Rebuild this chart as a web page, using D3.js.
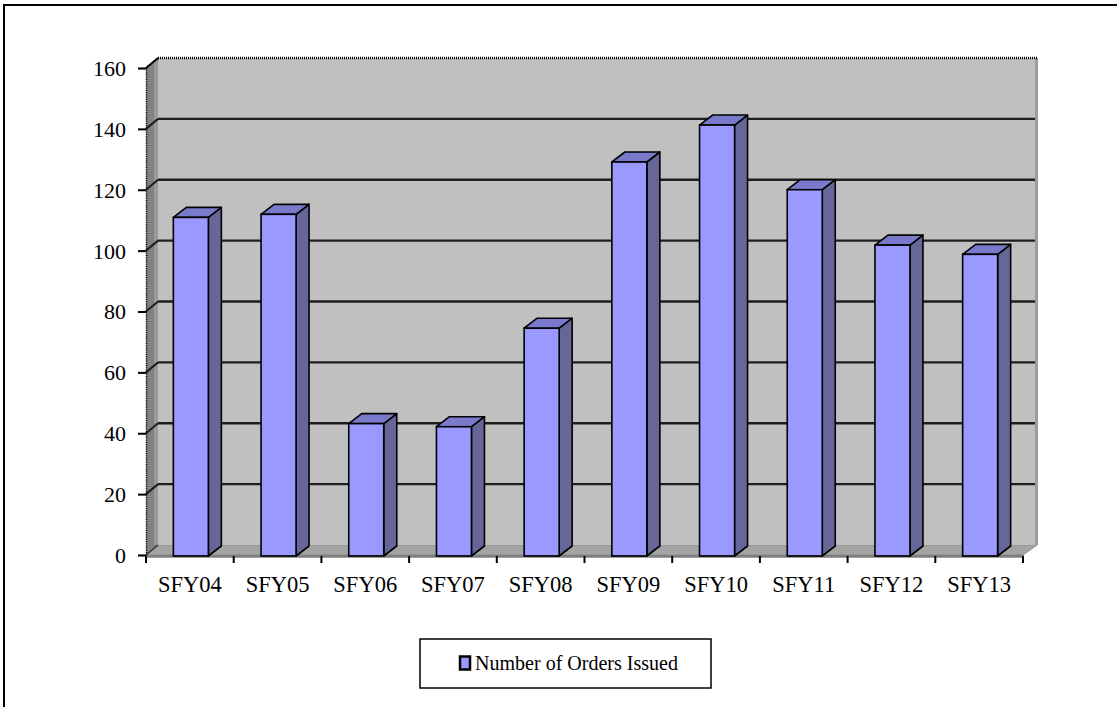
<!DOCTYPE html>
<html>
<head>
<meta charset="utf-8">
<script src="https://cdn.jsdelivr.net/npm/d3@7"></script>
<style>
  html, body { margin: 0; padding: 0; background: #fff; }
  svg { display: block; }
  text { font-family: "Liberation Serif", "Times New Roman", serif; fill: #000; }
</style>
</head>
<body>
<svg id="chart" width="1117" height="707"></svg>
<script>
// Orders issued per state fiscal year
const categories = ["SFY04", "SFY05", "SFY06", "SFY07", "SFY08", "SFY09", "SFY10", "SFY11", "SFY12", "SFY13"];
const ordersIssued = [110, 111, 43, 42, 74, 128, 140, 119, 101, 98];
const yTicks = [0, 20, 40, 60, 80, 100, 120, 140, 160];
const seriesName = "Number of Orders Issued";

const svg = d3.select("#chart");

// outer frame
svg.append("rect")
  .attr("x", 4).attr("y", 5).attr("width", 1300).attr("height", 900)
  .attr("fill", "none").attr("stroke", "#000").attr("stroke-width", 2);

// front plane scales
const x = d3.scaleBand().domain(categories).range([146, 1023]);
const yFront = d3.scaleLinear().domain([0, 160]).range([555, 68]);
// wall depth offset (back wall sits up and to the right)
const wdx = 12, wdy = -10;
const yBack = v => yFront(v) + wdy;
// columns stand a little forward inside the depth, drawn with their own scale
const yCol = d3.scaleLinear().domain([0, 160]).range([556, 63.5]);
const cdx = 13, cdy = -10, colW = 35;

const x0 = x.range()[0], x1 = x.range()[1];
const poly = pts => pts.map(p => p.join(",")).join(" ");

// floor
svg.append("polygon")
  .attr("points", poly([[x0, yFront(0)], [x1, yFront(0)], [x1 + wdx + 2, yBack(0)], [x0 + wdx, yBack(0)]]))
  .attr("fill", "#a4a4a4").attr("stroke", "#8c8c8c").attr("stroke-width", 1);

// left side wall
svg.append("polygon")
  .attr("points", poly([[x0, yFront(0)], [x0, yFront(160)], [x0 + wdx, yBack(160)], [x0 + wdx, yBack(0)]]))
  .attr("fill", "#828282");
svg.append("rect")
  .attr("x", x0 + wdx - 4).attr("y", yBack(160) + 3).attr("width", 4).attr("height", yBack(0) - yBack(160) - 3)
  .attr("fill", "#9a9a9a");

// back wall
svg.append("rect")
  .attr("x", x0 + wdx).attr("y", yBack(160))
  .attr("width", x1 + wdx + 2 - (x0 + wdx)).attr("height", yBack(0) - yBack(160))
  .attr("fill", "#c0c0c0");
svg.append("rect")
  .attr("x", x1 + wdx).attr("y", yBack(160)).attr("width", 3).attr("height", yBack(0) - yBack(160))
  .attr("fill", "#9c9c9c");

// gridlines: along the back wall and down the side wall to the axis
const grid = svg.append("g");
yTicks.filter(v => v > 0 && v < 160).forEach(v => {
  grid.append("line")
    .attr("x1", x0 + wdx).attr("x2", x1 + wdx)
    .attr("y1", yBack(v)).attr("y2", yBack(v))
    .attr("stroke", "#1e1e1e").attr("stroke-width", 2.4);
  grid.append("line")
    .attr("x1", x0).attr("y1", yFront(v))
    .attr("x2", x0 + wdx).attr("y2", yBack(v))
    .attr("stroke", "#1e1e1e").attr("stroke-width", 2);
});
// dotted top edge of the walls
grid.append("line")
  .attr("x1", x0 + wdx).attr("x2", x1 + wdx + 2)
  .attr("y1", yBack(160)).attr("y2", yBack(160))
  .attr("stroke", "#000").attr("stroke-width", 2.5).attr("stroke-dasharray", "1,1");
grid.append("line")
  .attr("x1", x0).attr("y1", yFront(160))
  .attr("x2", x0 + wdx).attr("y2", yBack(160))
  .attr("stroke", "#000").attr("stroke-width", 2);
grid.append("line")
  .attr("x1", x0 + wdx).attr("y1", yBack(0))
  .attr("x2", x0).attr("y2", yFront(0))
  .attr("stroke", "#333").attr("stroke-width", 1.5);

// columns
const bars = svg.append("g").selectAll("g")
  .data(categories.map((c, i) => ({ c, v: ordersIssued[i] })))
  .join("g");

bars.each(function (d) {
  const g = d3.select(this);
  const left = x(d.c) + x.bandwidth() / 2 - colW / 2 + 1;
  const right = left + colW;
  const top = yCol(d.v), bottom = yCol(0);
  // side face
  g.append("polygon")
    .attr("points", poly([[right, bottom], [right, top], [right + cdx, top + cdy], [right + cdx, bottom + cdy]]))
    .attr("fill", "#666699").attr("stroke", "#000").attr("stroke-width", 1.6).attr("stroke-linejoin", "round");
  // top face
  g.append("polygon")
    .attr("points", poly([[left, top], [right, top], [right + cdx, top + cdy], [left + cdx, top + cdy]]))
    .attr("fill", "#7a7acc").attr("stroke", "#000").attr("stroke-width", 1.6).attr("stroke-linejoin", "round");
  // front face
  g.append("rect")
    .attr("x", left).attr("y", top).attr("width", colW).attr("height", bottom - top)
    .attr("fill", "#9999ff").attr("stroke", "#000").attr("stroke-width", 1.6);
});

// value axis
const yAxis = svg.append("g")
  .attr("transform", `translate(${x0},0)`)
  .call(d3.axisLeft(yFront).tickValues(yTicks).tickSize(8).tickPadding(12).tickFormat(d3.format("d")));
yAxis.select(".domain").attr("stroke", "#000").attr("stroke-width", 1.5).attr("stroke-dasharray", "1,1.2");
yAxis.selectAll(".tick line").attr("stroke", "#000").attr("stroke-width", 2);
yAxis.selectAll(".tick text")
  .attr("font-family", "Liberation Serif, Times New Roman, serif")
  .attr("font-size", 22).attr("fill", "#000").attr("dy", "0.34em");

// category axis
const xAxis = svg.append("g")
  .attr("transform", `translate(0,${yFront(0) + 1})`)
  .call(d3.axisBottom(x).tickSize(0).tickPadding(20));
xAxis.select(".domain").attr("stroke", "#000").attr("stroke-width", 2.5).attr("stroke-dasharray", "1,1");
xAxis.selectAll(".tick text")
  .attr("font-family", "Liberation Serif, Times New Roman, serif")
  .attr("font-size", 22.5).attr("fill", "#000");
// boundary ticks between categories
const bounds = categories.map(c => x(c)).concat([x1]);
xAxis.selectAll(".bound").data(bounds).join("line")
  .attr("class", "bound")
  .attr("x1", d => d).attr("x2", d => d)
  .attr("y1", 0).attr("y2", 7)
  .attr("stroke", "#000").attr("stroke-width", 2);

// legend
const legend = svg.append("g").attr("transform", "translate(420,639)");
legend.append("rect")
  .attr("width", 291).attr("height", 49)
  .attr("fill", "#fff").attr("stroke", "#000").attr("stroke-width", 1.5);
legend.append("rect")
  .attr("x", 40).attr("y", 17.5).attr("width", 10).attr("height", 13)
  .attr("fill", "#9999ff").attr("stroke", "#000").attr("stroke-width", 2.5);
legend.append("text")
  .attr("x", 55).attr("y", 31)
  .attr("font-size", 21)
  .attr("textLength", 203).attr("lengthAdjust", "spacingAndGlyphs")
  .text(seriesName);
</script>
</body>
</html>
